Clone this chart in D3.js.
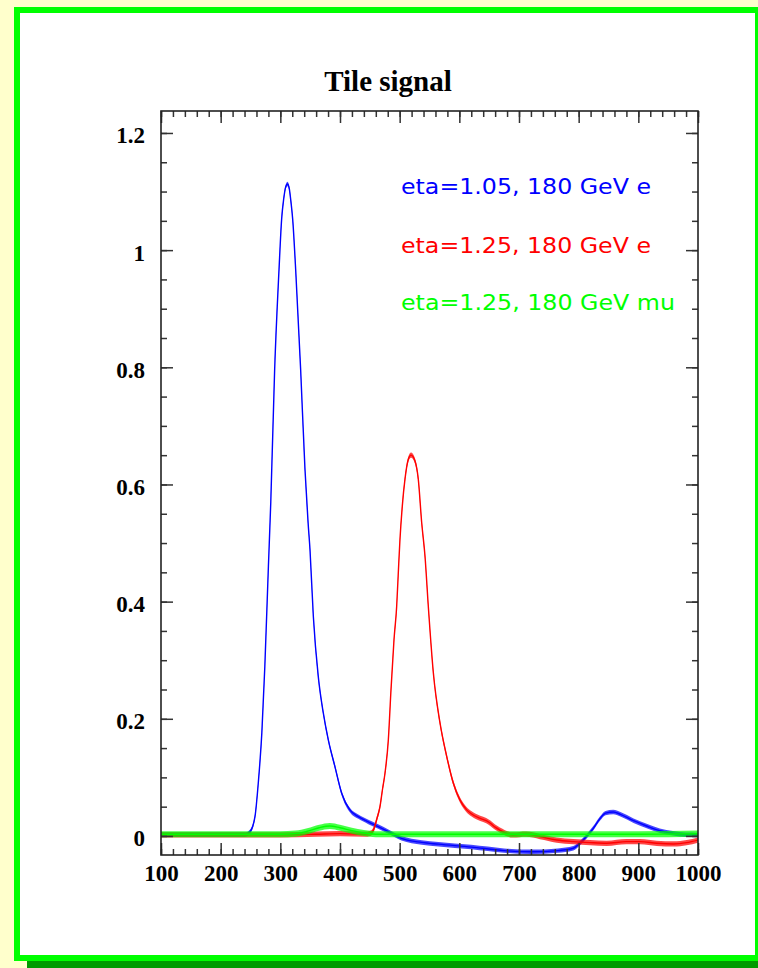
<!DOCTYPE html>
<html>
<head>
<meta charset="utf-8">
<script src="https://cdn.jsdelivr.net/npm/d3@7/dist/d3.min.js"></script>
<style>
  html, body { margin: 0; padding: 0; background: #ffffcc; }
  svg { display: block; }
</style>
</head>
<body>
<svg id="chart" width="758" height="968"></svg>
<script>
// Pulse shapes: time sample (x) and amplitude (value) for each beam setting
const blueX = [100, 150, 200, 240, 249, 257.5, 263, 269, 274, 280, 284, 290.5, 297.8, 302.2, 305.6, 309, 312, 315, 317.3, 320.7, 325.7, 334, 341.3, 346.5, 349.7, 355.3, 363.6, 372, 380.4, 391.6, 402.8, 416.8, 430.7, 447.5, 464, 481, 503, 537, 565, 620, 675, 720, 765, 791, 802, 813, 824.5, 836, 845, 858, 870, 892, 914, 936, 958, 980, 1000];
const blueY = [0.002, 0.002, 0.002, 0.002, 0.007, 0.033, 0.090, 0.176, 0.289, 0.460, 0.570, 0.797, 0.967, 1.053, 1.087, 1.108, 1.113, 1.105, 1.087, 1.053, 0.967, 0.797, 0.626, 0.535, 0.489, 0.375, 0.272, 0.210, 0.164, 0.118, 0.073, 0.044, 0.033, 0.024, 0.016, 0.0074, -0.004, -0.011, -0.014, -0.019, -0.025, -0.027, -0.025, -0.021, -0.0125, -0.001, 0.013, 0.030, 0.039, 0.041, 0.037, 0.026, 0.017, 0.009, 0.0046, 0.002, 0.0017];

const redX = [100, 200, 300, 360, 400, 440, 452, 456, 462, 467, 471, 475.4, 481, 485.5, 490.5, 495, 497.7, 500.5, 504.4, 508.9, 514.5, 519, 525.7, 531.2, 536.9, 542.5, 548, 556.5, 567.6, 578.8, 590, 601, 612, 620, 635, 645, 652, 660, 668, 690, 712, 735, 763, 791, 819, 847, 880, 903, 931, 959, 981, 1000];
const redY = [0.002, 0.002, 0.002, 0.003, 0.004, 0.003, 0.005, 0.010, 0.030, 0.050, 0.078, 0.107, 0.164, 0.250, 0.335, 0.392, 0.449, 0.506, 0.563, 0.609, 0.643, 0.650, 0.640, 0.609, 0.535, 0.477, 0.392, 0.278, 0.193, 0.136, 0.090, 0.0615, 0.045, 0.038, 0.030, 0.026, 0.0217, 0.015, 0.010, 0.0017, 0.003, -0.001, -0.007, -0.0097, -0.0114, -0.0125, -0.0097, -0.0097, -0.0125, -0.0137, -0.0114, -0.007];

const greenX = [100, 200, 300, 325, 345, 365, 383, 400, 420, 440, 460, 500, 600, 700, 800, 900, 1000];
const greenY = [0.003, 0.003, 0.003, 0.004, 0.008, 0.014, 0.017, 0.014, 0.009, 0.005, 0.003, 0.003, 0.003, 0.003, 0.003, 0.003, 0.004];

const seriesNames = ["eta=1.05, 180 GeV e", "eta=1.25, 180 GeV e", "eta=1.25, 180 GeV mu"];
const seriesColors = ["#0000ff", "#ff0000", "#00ff00"];

const xTicks = [100, 200, 300, 400, 500, 600, 700, 800, 900, 1000];
const yTicks = [0, 0.2, 0.4, 0.6, 0.8, 1, 1.2];
const titleText = "Tile signal";

const svg = d3.select("#chart");

// Canvas: pale background, drop shadow, green framed white pad
svg.append("rect").attr("x", 0).attr("y", 0).attr("width", 758).attr("height", 968).attr("fill", "#ffffcc");
svg.append("rect").attr("x", 27).attr("y", 14).attr("width", 745).attr("height", 954).attr("fill", "#009a00");
svg.append("rect").attr("x", 17).attr("y", 10).attr("width", 741).attr("height", 948)
  .attr("fill", "#ffffff").attr("stroke", "#00ff00").attr("stroke-width", 6);

const x = d3.scaleLinear().domain([100, 1000]).range([161, 698]);
const y = d3.scaleLinear().domain([-0.0325, 1.2375]).range([855, 111]);

// Title
svg.append("text")
  .attr("x", 388).attr("y", 91)
  .attr("text-anchor", "middle")
  .attr("font-family", "'Liberation Serif', 'Times New Roman', serif")
  .attr("font-weight", "bold")
  .attr("font-size", 29)
  .attr("fill", "#000")
  .text(titleText);

// Traces with a vertical noise band around each
const plot = svg.append("g");
plot.append("clipPath").attr("id", "clip")
  .append("rect").attr("x", 161).attr("y", 111).attr("width", 537).attr("height", 744);

const series = [
  { xs: blueX, ys: blueY, noise: 0.0038 },
  { xs: redX, ys: redY, noise: 0.0045 },
  { xs: greenX, ys: greenY, noise: 0.0052 }
];

const traces = plot.append("g").attr("clip-path", "url(#clip)");
series.forEach((s, i) => {
  const pts = s.xs.map((xv, j) => [xv, s.ys[j]]);
  const band = d3.area()
    .x(d => x(d[0]))
    .y0(d => y(d[1] - s.noise))
    .y1(d => y(d[1] + s.noise))
    .curve(d3.curveMonotoneX);
  const line = d3.line()
    .x(d => x(d[0]))
    .y(d => y(d[1]))
    .curve(d3.curveMonotoneX);
  traces.append("path").datum(pts)
    .attr("d", band)
    .attr("fill", seriesColors[i])
    .attr("fill-opacity", 0.72);
  traces.append("path").datum(pts)
    .attr("d", line)
    .attr("fill", "none")
    .attr("stroke", seriesColors[i])
    .attr("stroke-width", 1.4);
});

// Axes: major and minor ticks on all four sides, pointing inward
const axisColor = "#333";
function styleAxis(g) {
  g.select(".domain").remove();
  g.selectAll("line").attr("stroke", axisColor).attr("stroke-width", 1.5);
}
const xMinor = d3.range(100, 1001, 20);
const yMinor = d3.range(0, 1.2376, 0.05);

// bottom
svg.append("g").attr("transform", "translate(0,855)")
  .call(d3.axisBottom(x).tickValues(xMinor).tickSize(-6).tickFormat(""))
  .call(styleAxis);
const xAxisMajor = svg.append("g").attr("transform", "translate(0,855)")
  .call(d3.axisBottom(x).tickValues(xTicks).tickSize(-12).tickPadding(0).tickFormat(d3.format("d")))
  .call(styleAxis);
xAxisMajor.selectAll("text")
  .attr("y", 26).attr("dy", 0)
  .attr("font-family", "'Liberation Serif', 'Times New Roman', serif")
  .attr("font-weight", "bold").attr("font-size", 23).attr("fill", "#000");

// top
svg.append("g").attr("transform", "translate(0,111)")
  .call(d3.axisTop(x).tickValues(xMinor).tickSize(-6).tickFormat(""))
  .call(styleAxis);
svg.append("g").attr("transform", "translate(0,111)")
  .call(d3.axisTop(x).tickValues(xTicks).tickSize(-12).tickFormat(""))
  .call(styleAxis);

// left
svg.append("g").attr("transform", "translate(161,0)")
  .call(d3.axisLeft(y).tickValues(yMinor).tickSize(-6).tickFormat(""))
  .call(styleAxis);
const yAxisMajor = svg.append("g").attr("transform", "translate(161,0)")
  .call(d3.axisLeft(y).tickValues(yTicks).tickSize(-12).tickFormat(d => d === 0 ? "0" : d3.format("")(+d.toFixed(1))))
  .call(styleAxis);
yAxisMajor.selectAll("text")
  .attr("x", -16).attr("dy", 10)
  .attr("text-anchor", "end")
  .attr("font-family", "'Liberation Serif', 'Times New Roman', serif")
  .attr("font-weight", "bold").attr("font-size", 23).attr("fill", "#000");

// right
svg.append("g").attr("transform", "translate(698,0)")
  .call(d3.axisRight(y).tickValues(yMinor).tickSize(-6).tickFormat(""))
  .call(styleAxis);
svg.append("g").attr("transform", "translate(698,0)")
  .call(d3.axisRight(y).tickValues(yTicks).tickSize(-12).tickFormat(""))
  .call(styleAxis);

// frame
svg.append("rect")
  .attr("x", 161).attr("y", 111).attr("width", 537).attr("height", 744)
  .attr("fill", "none").attr("stroke", "#222").attr("stroke-width", 1.6);

// Legend text
const legendY = [194, 252.5, 310];
const legendW = [250, 250, 274];
seriesNames.forEach((name, i) => {
  svg.append("text")
    .attr("x", 401).attr("y", legendY[i])
    .attr("font-family", "'DejaVu Sans', sans-serif")
    .attr("font-size", 21.5)
    .attr("textLength", legendW[i])
    .attr("lengthAdjust", "spacingAndGlyphs")
    .attr("fill", seriesColors[i])
    .text(name);
});
</script>
</body>
</html>
